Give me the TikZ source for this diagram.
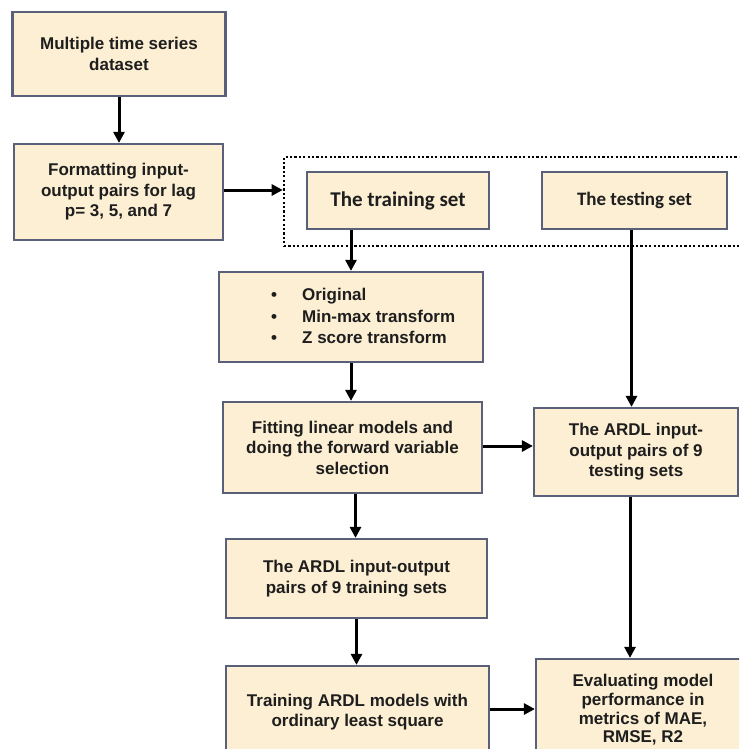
\documentclass[tikz,border=0pt]{standalone}
\usepackage{fontspec}
\setmainfont{Liberation Sans}
\newfontfamily\calib{Carlito}
\usetikzlibrary{arrows.meta}
\definecolor{boxfill}{HTML}{FCEFD3}
\definecolor{boxline}{HTML}{5A5F7A}
\definecolor{inkc}{HTML}{1E1E1E}
\begin{document}
\begin{tikzpicture}[x=1pt,y=-1pt,
  proc/.style={draw=boxline, fill=boxfill, line width=2.2pt, inner sep=0pt, align=center,
    text=inkc, font=\fontsize{17}{20.5}\selectfont\bfseries},
  setbox/.style={proc, font=\calib\fontsize{21}{25}\selectfont\bfseries},
  flow/.style={line width=3pt, -{Triangle[length=11pt,width=11pt]}},
  grpbox/.style={draw=black, line width=2.6pt, dash pattern=on 2.2pt off 2.2pt, inner sep=0pt}]
\clip (0,0) rectangle (739,749);
\fill[white] (0,0) rectangle (739,749);

\node[grpbox, minimum width=470pt, minimum height=89pt] (grp) at (519,201.5) {};

\node[proc, minimum width=213pt, minimum height=84pt] (ds) at (119,54) {Multiple time series\\dataset};
\node[proc, minimum width=209pt, minimum height=96pt] (fmt) at (118.5,192) {Formatting input-\\output pairs for lag\\p= 3, 5, and 7};
\node[setbox, minimum width=182pt, minimum height=57pt] (trn) at (398,200.5) {The training set};
\node[setbox, minimum width=185pt, minimum height=57pt, font=\calib\fontsize{19}{23}\selectfont\bfseries] (tst) at (634.5,200.5) {The testing set};
\node[proc, minimum width=264pt, minimum height=90pt] (bul) at (351,317) {};
\node[anchor=west, inner sep=0pt, text=inkc, font=\fontsize{17}{21.5}\selectfont\bfseries] (bultxt) at (271,318)
  {\begin{tabular}{@{}l@{\hspace{25pt}}l@{}}•&Original\\•&Min-max transform\\•&Z score transform\end{tabular}};
\node[proc, minimum width=259pt, minimum height=91pt] (fit) at (352.5,447.5) {Fitting linear models and\\doing the forward variable\\selection};
\node[proc, minimum width=204pt, minimum height=88pt] (tard) at (636,452) {The ARDL input-\\output pairs of 9\\testing sets};
\node[proc, minimum width=261pt, minimum height=79pt] (trard) at (356.5,578.5) {The ARDL input-output\\pairs of 9 training sets};
\node[proc, minimum width=263pt, minimum height=92pt] (trm) at (357.5,712) {Training ARDL models with\\ordinary least square};
\node[proc, minimum width=214pt, minimum height=102pt, font=\fontsize{17}{18.7}\selectfont\bfseries] (eval) at (643,710) {Evaluating model\\performance in\\metrics of MAE,\\RMSE, R2};

\draw[flow] (ds.south) -- (fmt.north -| ds.south);
\draw[flow] ([yshift=2pt]fmt.east) -- ([yshift=2pt]fmt.east -| grp.west);
\draw[flow] (trn.south -| bul.north) -- (bul.north);
\draw[flow] (bul.south) -- (fit.north -| bul.south);
\draw[flow] ([xshift=-3pt]tst.south) -- ([xshift=-3pt]tst.south |- tard.north);
\draw[flow] ([yshift=1.5pt]fit.east) -- ([yshift=1.5pt]fit.east -| tard.west);
\draw[flow] ([xshift=3pt]fit.south) -- ([xshift=3pt]fit.south |- trard.north);
\draw[flow] (trard.south) -- (trard.south |- trm.north);
\draw[flow] ([xshift=-6pt]tard.south) -- ([xshift=-6pt]tard.south |- eval.north);
\draw[flow] ([yshift=3pt]trm.east) -- ([yshift=3pt]trm.east -| eval.west);
\end{tikzpicture}
\end{document}
